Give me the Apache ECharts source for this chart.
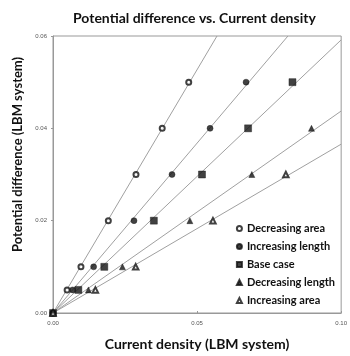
<!DOCTYPE html>
<html><head><meta charset="utf-8">
<script src="https://cdn.jsdelivr.net/npm/echarts@6/dist/echarts.min.js"></script>
<style>html,body{margin:0;padding:0;background:#fff}#c{width:350px;height:356px}</style>
</head><body><div id="c"></div>
<script>
const seriesNames = ["Decreasing area","Increasing length","Base case","Decreasing length","Increasing area"];
const potential = [0, 0.005, 0.01, 0.02, 0.03, 0.04, 0.05];
const xDecreasingArea   = [0, 0.0049, 0.0097, 0.0192, 0.0288, 0.0379, 0.0471];
const xIncreasingLength = [0, 0.0068, 0.0141, 0.0281, 0.0413, 0.0545, 0.0670];
const xBaseCase         = [0, 0.0088, 0.0178, 0.0350, 0.0517, 0.0677, 0.0831];
const xDecreasingLength = [0, 0.0123, 0.0241, 0.0475, 0.0690, 0.0897];
const xIncreasingArea   = [0, 0.0147, 0.0287, 0.0555, 0.0808];
const symbols = ["emptyCircle","circle","rect","triangle","emptyTriangle"];
const symbolSizes = [5, 6, 7, 6, 5.5];
const xTicks = ["0.00","0.05","0.10"];
const yTicks = ["0.00","0.02","0.04","0.06"];
const xMax = 0.10, yMax = 0.06;

const xs = [xDecreasingArea, xIncreasingLength, xBaseCase, xDecreasingLength, xIncreasingArea];
const FONT = 'Lato';
const series = [];
xs.forEach((xarr, i) => {
  let sxy = 0, sxx = 0;
  xarr.forEach((x, j) => { sxy += x * potential[j]; sxx += x * x; });
  const k = sxy / sxx;
  const xe = Math.min(xMax, yMax / k);
  series.push({
    type: 'line', data: [[0, 0], [xe, k * xe]], symbol: 'none', silent: true,
    lineStyle: { color: '#a0a0a0', width: 1, type: 'solid' }, z: 1
  });
});
xs.forEach((xarr, i) => {
  series.push({
    name: seriesNames[i], type: 'scatter', symbol: symbols[i], symbolSize: symbolSizes[i],
    data: xarr.map((x, j) => [x, potential[j]]),
    itemStyle: { color: '#111', borderColor: '#111', borderWidth: symbols[i].startsWith('empty') ? 1.2 : 0.5 },
    z: 3
  });
});

const chart = echarts.init(document.getElementById('c'));
chart.setOption({
  animation: false,
  title: { text: 'Potential difference vs. Current density', left: 68, top: 6,
    textStyle: { fontFamily: FONT, fontWeight: 'bold', fontSize: 14, color: '#111' } },
  grid: { left: 53, right: 5, top: 36, bottom: 41, show: true, borderColor: '#999', borderWidth: 1 },
  legend: {
    data: seriesNames, orient: 'vertical', right: 10, bottom: 45, itemGap: 7,
    itemWidth: 5, itemHeight: 5,
    textStyle: { fontFamily: FONT, fontWeight: 'bold', fontSize: 11, color: '#111' }
  },
  xAxis: {
    type: 'value', min: 0, max: xMax, interval: 0.05,
    name: 'Current density (LBM system)', nameLocation: 'middle', nameGap: 24,
    nameTextStyle: { fontFamily: FONT, fontWeight: 'bold', fontSize: 14, color: '#111' },
    axisLine: { lineStyle: { color: '#999' } },
    axisTick: { show: true, length: 2, inside: true, lineStyle: { color: '#999' } },
    splitLine: { show: false },
    axisLabel: { fontSize: 6, color: '#555', margin: 7, formatter: (v) => xTicks[Math.round(v / 0.05)] }
  },
  yAxis: {
    type: 'value', min: 0, max: yMax, interval: 0.02,
    name: 'Potential difference (LBM system)', nameLocation: 'middle', nameGap: 24,
    nameTextStyle: { fontFamily: FONT, fontWeight: 'bold', fontSize: 13, color: '#111', padding: [0, 0, 0, 40] },
    axisLine: { lineStyle: { color: '#999' } },
    axisTick: { show: true, length: 2, lineStyle: { color: '#999' } },
    splitLine: { show: false },
    axisLabel: { fontSize: 6, color: '#555', margin: 6, formatter: (v) => yTicks[Math.round(v / 0.02)] }
  },
  series: series
});
</script></body></html>
